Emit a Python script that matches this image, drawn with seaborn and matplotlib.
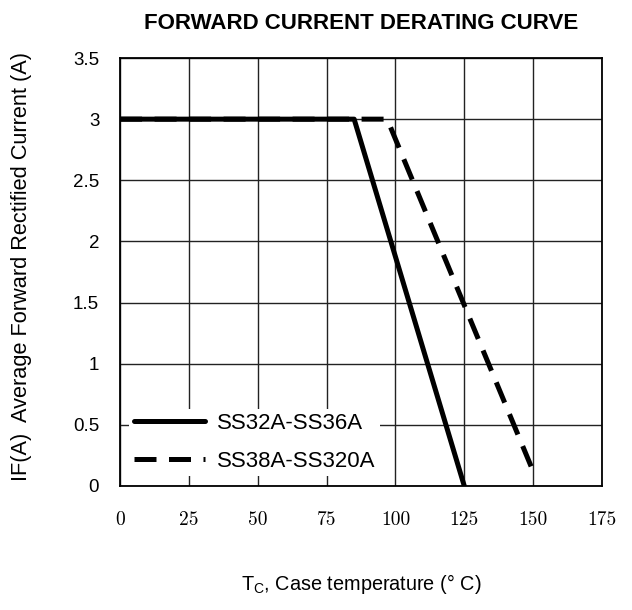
import pandas as pd
import seaborn as sns
import matplotlib.pyplot as plt

# derating curves
series_names = ["SS32A-SS36A", "SS38A-SS320A"]
temp_a = [0, 85, 125]
current_a = [3.0, 3.0, 0.0]
temp_b = [0, 97, 150]
current_b = [3.0, 3.0, 0.12]

x_ticks = [0, 25, 50, 75, 100, 125, 150, 175]
y_ticks = [0, 0.5, 1, 1.5, 2, 2.5, 3, 3.5]
y_tick_labels = ["0", "0.5", "1", "1.5", "2", "2.5", "3", "3.5"]

df = pd.concat([
    pd.DataFrame({"temp": temp_a, "current": current_a, "device": series_names[0]}),
    pd.DataFrame({"temp": temp_b, "current": current_b, "device": series_names[1]}),
])

sns.set_style("white")
plt.rcParams["font.family"] = ["Liberation Sans", "DejaVu Sans"]
plt.rcParams["text.color"] = "black"
plt.rcParams["axes.labelcolor"] = "black"
plt.rcParams["xtick.color"] = "black"
plt.rcParams["ytick.color"] = "black"

fig = plt.figure(figsize=(6.32, 6.10), dpi=100)
ax = fig.add_axes([0.190, 0.2033, 0.7625, 0.7016])

sns.lineplot(data=df, x="temp", y="current", style="device",
             style_order=series_names,
             dashes={series_names[0]: "", series_names[1]: (4.4, 2.5)},
             color="black", linewidth=3.6, estimator=None, sort=False,
             legend=False, ax=ax)

ax.set_xlim(0, 175)
ax.set_ylim(0, 3.5)
ax.set_xticks(x_ticks)
ax.set_xticklabels([str(t) for t in x_ticks], family=["cmr10", "DejaVu Serif"], fontsize=14)
ax.set_yticks(y_ticks)
ax.set_yticklabels(y_tick_labels, fontsize=13.5)
ax.tick_params(axis="x", length=0, pad=18)
ax.tick_params(axis="y", length=4, direction="out", color="black", pad=11)

ax.grid(True, color="#222222", linewidth=1.0)
ax.set_axisbelow(True)
for s in ax.spines.values():
    s.set_visible(True)
    s.set_color("black")
    s.set_linewidth(1.3)

ax.set_title("FORWARD CURRENT DERATING CURVE", fontsize=16, fontweight="bold", pad=21)
ax.set_xlabel(r"T$_\mathregular{C}$, Case temperature (° C)", fontsize=14.3)
ax.set_ylabel("IF(A)  Average Forward Rectified Current (A)", fontsize=15.7)
ax.xaxis.set_label_coords(0.5, -0.20)
ax.yaxis.set_label_coords(-0.183, 0.512)

leg = ax.legend(ax.lines[:2], series_names, loc="lower left",
                bbox_to_anchor=(0.019, 0.023), borderaxespad=0, fontsize=16,
                frameon=True, framealpha=1, edgecolor="white", fancybox=False,
                handlelength=3.2, handletextpad=0.55, labelspacing=0.75,
                borderpad=0.2)
leg.get_frame().set_linewidth(0)

fig.savefig("out.png", dpi=100)
